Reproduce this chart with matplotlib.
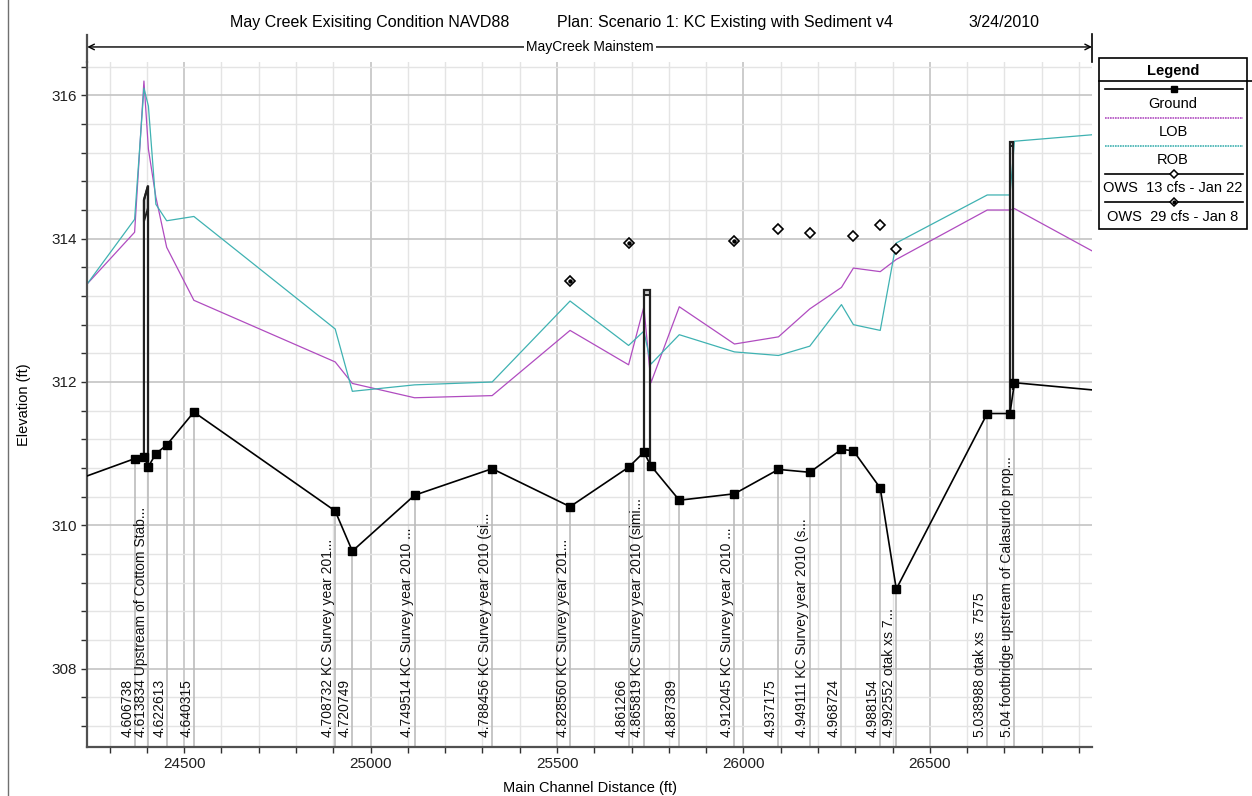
import matplotlib
matplotlib.use("Agg")
import matplotlib.pyplot as plt
import matplotlib.transforms as mtransforms
from matplotlib.lines import Line2D
from matplotlib.patches import Polygon, Rectangle
from matplotlib.ticker import MultipleLocator
import numpy as np

plt.rcParams['font.family'] = ['Liberation Sans', 'DejaVu Sans']

# main channel distance of each cross section (ft); first/last are the reach
# continuing past the plotted window
station = [24240, 24367, 24392, 24404, 24424, 24453, 24526, 24905, 24951,
           25118, 25326, 25535, 25692, 25733, 25752, 25828, 25976, 26094,
           26178, 26263, 26295, 26367, 26410, 26654, 26715, 26727, 26935]
ground = [310.69, 310.93, 310.95, 310.82, 311.00, 311.12, 311.58, 310.20, 309.64,
          310.42, 310.79, 310.26, 310.81, 311.02, 310.83, 310.35, 310.44, 310.78,
          310.74, 311.06, 311.04, 310.52, 309.11, 311.56, 311.56, 311.99, 311.89]
lob = [313.37, 314.09, 316.20, 315.25, 314.58, 313.88, 313.14, 312.28, 311.98,
       311.78, 311.81, 312.72, 312.24, 313.05, 311.99, 313.05, 312.53, 312.63,
       313.02, 313.32, 313.59, 313.54, 313.71, 314.40, 314.40, 314.42, 313.83]
rob = [313.37, 314.27, 316.10, 315.85, 314.48, 314.25, 314.31, 312.74, 311.87,
       311.96, 312.00, 313.13, 312.51, 312.71, 312.25, 312.66, 312.42, 312.37,
       312.50, 313.08, 312.80, 312.72, 313.94, 314.61, 314.61, 315.36, 315.45]
xs_labels = ["", "4.606738", "", "4.613834 Upstream of Cottom Stab...", "",
             "4.622613", "4.640315", "4.708732 KC Survey year 201...", "4.720749",
             "4.749514 KC Survey year 2010 ...", "4.788456 KC Survey year 2010 (si...",
             "4.828560 KC Survey year 201...", "4.861266",
             "4.865819 KC Survey year 2010 (simi...", "", "4.887389",
             "4.912045 KC Survey year 2010 ...", "4.937175",
             "4.949111 KC Survey year 2010 (s...", "4.968724", "", "4.988154",
             "4.992552 otak xs 7...", "5.038988 otak xs  7575", "",
             "5.04 footbridge upstream of Calasurdo prop...", ""]

# observed water surface
ows13_x = [26094, 26178, 26295, 26367, 26410]
ows13_y = [314.13, 314.08, 314.04, 314.19, 313.86]
ows29_x = [25535, 25692, 25976]
ows29_y = [313.41, 313.94, 313.97]

# bridges: upstream / downstream face, high chord and low chord at each face
bridge_x0 = [24392, 25734, 26714]
bridge_x1 = [24403, 25749, 26724]
bridge_hi0 = [314.54, 313.28, 315.35]
bridge_hi1 = [314.74, 313.28, 315.35]
bridge_lo0 = [314.24, 313.22, 315.30]
bridge_lo1 = [314.43, 313.22, 315.30]

lob_color = '#b04cc0'
rob_color = '#3fb2b2'
xmin, xmax = 24240, 26935
ymin, ymax = 306.91, 316.47

fig = plt.figure(figsize=(12.52, 7.96), dpi=100)
ax = fig.add_axes([0.0697, 0.0619, 0.8025, 0.8606])

ax.set_xlim(xmin, xmax)
ax.set_ylim(ymin, ymax)
ax.xaxis.set_major_locator(MultipleLocator(500))
ax.xaxis.set_minor_locator(MultipleLocator(100))
ax.yaxis.set_major_locator(MultipleLocator(2))
ax.yaxis.set_minor_locator(MultipleLocator(0.4))
ax.grid(which='minor', color='#e4e4e4', lw=1.0, zorder=0)
ax.grid(which='major', color='#c4c4c4', lw=1.2, zorder=0)
ax.set_axisbelow(True)
for s in ['top', 'right']:
    ax.spines[s].set_visible(False)
for s in ['left', 'bottom']:
    ax.spines[s].set_color('#505050')
    ax.spines[s].set_linewidth(1.6)
ax.tick_params(which='both', direction='out', length=4, width=1.0, color='#303030',
               labelsize=11, labelcolor='#202020')

trans = mtransforms.blended_transform_factory(ax.transData, ax.transAxes)

# cross section marker lines and labels
for x, g, lab in zip(station, ground, xs_labels):
    if not lab:
        continue
    ax.plot([x, x], [ymin, g], color='#bcbcbc', lw=1.2, zorder=1)
    ax.text(x - 1, 0.014, lab, transform=trans, rotation=90, rotation_mode='anchor',
            ha='left', va='bottom', fontsize=10, color='#101010', zorder=3)

ax.plot(station, lob, color=lob_color, lw=0.9, zorder=2)
ax.plot(station, rob, color=rob_color, lw=0.9, zorder=2)

# bridges
for x0, x1, h0, h1, l0, l1 in zip(bridge_x0, bridge_x1, bridge_hi0, bridge_hi1,
                                  bridge_lo0, bridge_lo1):
    g0 = np.interp(x0, station, ground)
    g1 = np.interp(x1, station, ground)
    ax.add_patch(Polygon([(x0, l0), (x0, h0), (x1, h1), (x1, l1)], closed=True,
                         facecolor='#cfcfcf', edgecolor='#202020', lw=1.4, zorder=4))
    ax.add_patch(Polygon([(x0, g0), (x0, h0), (x1, h1), (x1, g1)], closed=False,
                         facecolor='none', edgecolor='#202020', lw=1.6, zorder=4))

ax.plot(station, ground, color='black', lw=1.2, marker='s', markersize=5.5,
        markevery=list(range(1, len(station) - 1)), zorder=5)

ax.plot(ows13_x, ows13_y, ls='none', marker='D', markersize=5.5, mfc='white',
        mec='black', mew=1.2, zorder=6)
ax.plot(ows29_x, ows29_y, ls='none', marker='D', markersize=5.5, mfc='white',
        mec='black', mew=1.2, zorder=6)
ax.plot(ows29_x, ows29_y, ls='none', marker='o', markersize=2.2, mfc='black',
        mec='black', zorder=7)

ax.set_xlabel('Main Channel Distance (ft)', fontsize=10.5, labelpad=7)
ax.set_ylabel('Elevation (ft)', fontsize=10.5, labelpad=15)

# reach extent arrow above the plot
ftrans = mtransforms.blended_transform_factory(ax.transAxes, fig.transFigure)
ax.annotate('', xy=(1.0, 0.941), xytext=(0.0, 0.941), xycoords=ftrans,
            textcoords=ftrans,
            arrowprops=dict(arrowstyle='<->', color='black', lw=1.0,
                            shrinkA=0, shrinkB=0, mutation_scale=10))
ax.text(0.5, 0.941, 'MayCreek Mainstem', transform=ftrans, ha='center', va='center',
        fontsize=10, bbox=dict(facecolor='white', edgecolor='none', pad=1.5))
fig.add_artist(Line2D([0.0697, 0.0697], [0.9225, 0.956], color='#505050', lw=1.6))
fig.add_artist(Line2D([0.8722, 0.8722], [0.922, 0.957], color='black', lw=1.2))

# outer frame edge on the left
fig.add_artist(Line2D([0.0066, 0.0066], [0.0, 1.0], color='#707070', lw=1.0))

# title
fig.text(0.1837, 0.972, 'May Creek Exisiting Condition NAVD88', fontsize=11.5,
         ha='left', va='center')
fig.text(0.445, 0.972, 'Plan: Scenario 1: KC Existing with Sediment v4', fontsize=11.5,
         ha='left', va='center')
fig.text(0.7732, 0.972, '3/24/2010', fontsize=11.5, ha='left', va='center')

# legend box
W, H = 1252.0, 796.0
def fx(px):
    return px / W
def fy(py):
    return 1 - py / H

fig.add_artist(Rectangle((fx(1099), fy(229)), fx(1247) - fx(1099), fy(58) - fy(229),
                         facecolor='white', edgecolor='black', lw=1.2,
                         transform=fig.transFigure))
fig.add_artist(Line2D([fx(1099), fx(1252)], [fy(80.5), fy(80.5)], color='black', lw=1.2))
fig.text(fx(1173), fy(70.5), 'Legend', fontsize=10.5, fontweight='bold',
         ha='center', va='center')
lx = [fx(1105), fx(1243)]
fig.add_artist(Line2D(lx, [fy(88.5)] * 2, color='black', lw=1.2))
fig.add_artist(Line2D([fx(1174)], [fy(88.5)], marker='s', markersize=5, color='black'))
fig.add_artist(Line2D(lx, [fy(117.5)] * 2, color=lob_color, lw=1.2, ls=(0, (1, 0.5))))
fig.add_artist(Line2D(lx, [fy(145.5)] * 2, color=rob_color, lw=1.2, ls=(0, (1, 0.5))))
fig.add_artist(Line2D(lx, [fy(173.5)] * 2, color='black', lw=1.2))
fig.add_artist(Line2D([fx(1174)], [fy(173.5)], marker='D', markersize=4.5, mfc='white',
                      mec='black', mew=1.1))
fig.add_artist(Line2D(lx, [fy(202.5)] * 2, color='black', lw=1.2))
fig.add_artist(Line2D([fx(1174)], [fy(202.5)], marker='D', markersize=4.5, mfc='white',
                      mec='black', mew=1.1))
fig.add_artist(Line2D([fx(1174)], [fy(202.5)], marker='o', markersize=2, color='black'))
for py, txt in [(104, 'Ground'), (132, 'LOB'), (160, 'ROB'),
                (188.5, 'OWS  13 cfs - Jan 22'), (217, 'OWS  29 cfs - Jan 8')]:
    fig.text(fx(1173), fy(py), txt, fontsize=10.5, ha='center', va='center')

fig.savefig('out.png', dpi=100)
